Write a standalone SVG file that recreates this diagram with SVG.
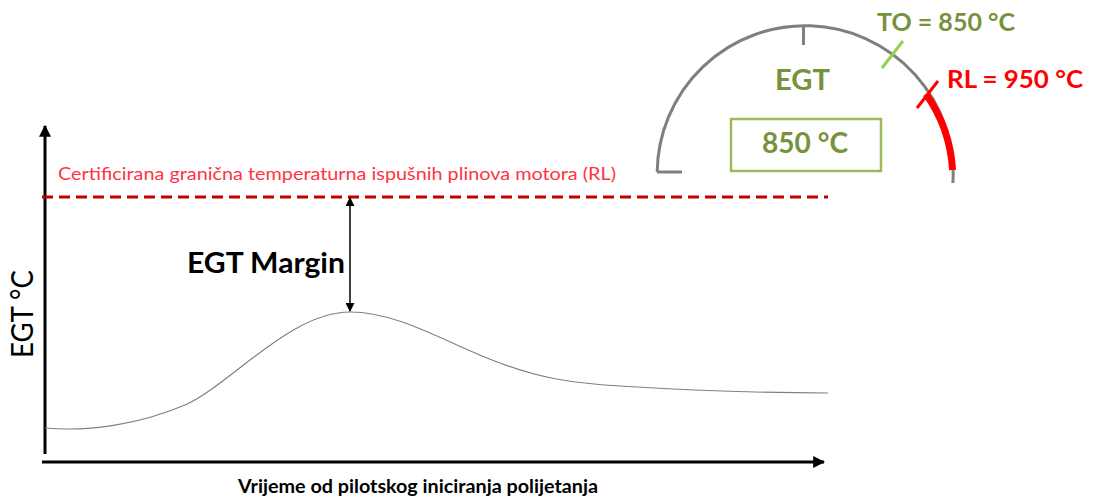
<svg xmlns="http://www.w3.org/2000/svg" width="1096" height="500" viewBox="0 0 1096 500">
<defs>
<style>
text{font-family:Lato,"Open Sans","Liberation Sans",sans-serif}
.axis{stroke:#000;stroke-width:3;fill:none}
.gray{stroke:#7F7F7F;stroke-width:3;fill:none}
.green{fill:#76923C;font-weight:bold}
</style>
<marker id="ah" viewBox="0 0 10 10" refX="9" refY="5" markerWidth="4" markerHeight="4" markerUnits="strokeWidth" orient="auto"><path d="M0,0L10,5L0,10z" fill="#000"/></marker>
<marker id="ah2" viewBox="0 0 10 10" refX="9" refY="5" markerWidth="6" markerHeight="6" markerUnits="strokeWidth" orient="auto-start-reverse"><path d="M0,0L10,5L0,10z" fill="#000"/></marker>
</defs>
<rect width="1096" height="500" fill="#fff"/>
<g id="chart">
<line class="axis" x1="45" y1="454" x2="45" y2="126" marker-end="url(#ah)"/>
<line class="axis" x1="42" y1="462" x2="824" y2="462" marker-end="url(#ah)"/>
<path d="M45,428 C90,432 140,424 185,405 C230,385 290,312 350,312 C400,312 450,345 500,363 C540,378 570,383 620,386 C700,391 760,393 828,393" fill="none" stroke="#808080" stroke-width="1.2"/>
<text x="0" y="0" transform="translate(33,314) rotate(-90)" text-anchor="middle" font-size="31" textLength="88" lengthAdjust="spacingAndGlyphs" fill="#000">EGT °C</text>
<text x="238" y="493" font-size="19" font-weight="bold" textLength="360" lengthAdjust="spacingAndGlyphs" fill="#000">Vrijeme od pilotskog iniciranja polijetanja</text>
</g>
<g id="rl-line">
<line x1="42" y1="197" x2="828" y2="197" stroke="#C00000" stroke-width="3" stroke-dasharray="11 6"/>
<text x="58" y="180" font-size="18" textLength="558" lengthAdjust="spacingAndGlyphs" fill="#FF3344">Certificirana granična temperaturna ispušnih plinova motora (RL)</text>
</g>
<g id="margin">
<line x1="350" y1="198" x2="350" y2="311" stroke="#000" stroke-width="1.5" marker-start="url(#ah2)" marker-end="url(#ah2)"/>
<text x="187" y="273" font-size="28" font-weight="bold" textLength="158" lengthAdjust="spacingAndGlyphs" fill="#000">EGT Margin</text>
</g>
<g id="gauge">
<path class="gray" d="M657.2,172 A148,148 0 1 1 952.9,183"/>
<line class="gray" x1="657" y1="172" x2="682" y2="172"/>
<line class="gray" x1="803.5" y1="26" x2="803.5" y2="45"/>
<path d="M926,94 A148,148 0 0 1 952.6,170" fill="none" stroke="#FF0000" stroke-width="7"/>
<line x1="903" y1="41" x2="882" y2="68" stroke="#92D050" stroke-width="3"/>
<line x1="938" y1="81" x2="917" y2="108" stroke="#FF0000" stroke-width="3"/>
<text class="green" x="877" y="31" font-size="25" textLength="138" lengthAdjust="spacingAndGlyphs">TO = 850 °C</text>
<text x="947" y="88" font-size="25" font-weight="bold" textLength="136" lengthAdjust="spacingAndGlyphs" fill="#FF0000">RL = 950 °C</text>
<text class="green" x="775" y="90" font-size="28" textLength="55" lengthAdjust="spacingAndGlyphs">EGT</text>
<rect x="731" y="119" width="150" height="52" fill="none" stroke="#9BBB59" stroke-width="2.5"/>
<text class="green" x="762" y="153" font-size="29" textLength="86" lengthAdjust="spacingAndGlyphs">850 °C</text>
</g>
</svg>
